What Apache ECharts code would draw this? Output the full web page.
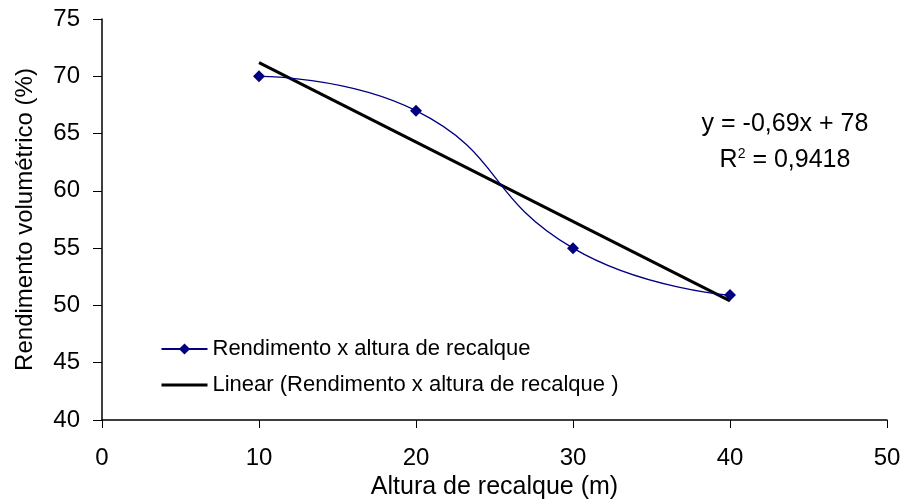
<!DOCTYPE html>
<html>
<head>
<meta charset="utf-8">
<script src="https://cdn.jsdelivr.net/npm/echarts@6/dist/echarts.min.js"></script>
<style>
  html, body { margin: 0; padding: 0; background: #fff; }
  #chart { width: 904px; height: 500px; }
</style>
</head>
<body>
<div id="chart"></div>
<script>
// data
const alturas = [10, 20, 30, 40];
const rendimento = [70, 67, 55, 50.9];
// trend line endpoints (y = -0,69x + 78)
const trendX = [10, 40];
const trendY = [71.2, 50.4];
const xTicks = [0, 10, 20, 30, 40, 50];
const yTicks = [40, 45, 50, 55, 60, 65, 70, 75];

const font = '"Liberation Sans", Arial, sans-serif';
const chart = echarts.init(document.getElementById('chart'));

chart.setOption({
  animation: false,
  grid: { left: 102, top: 19, right: 17, bottom: 80, outerBoundsMode: 'none' },
  legend: {
    orient: 'vertical',
    left: 155,
    top: 333,
    itemGap: 14,
    itemWidth: 46,
    itemHeight: 14,
    textStyle: { fontFamily: font, fontSize: 22, color: '#000' },
    data: [
      { name: 'Rendimento x altura de recalque' },
      {
        name: 'Linear (Rendimento x altura de recalque )',
        itemStyle: { opacity: 0 },
        lineStyle: { width: 3, color: '#000' }
      }
    ]
  },
  xAxis: {
    type: 'value',
    min: xTicks[0], max: xTicks[xTicks.length - 1], interval: 10,
    name: 'Altura de recalque (m)',
    nameLocation: 'middle',
    nameGap: 54,
    nameTextStyle: { fontFamily: font, fontSize: 25, color: '#000' },
    axisLine: { lineStyle: { color: '#000', width: 1.5 } },
    axisTick: { inside: false, length: 8, lineStyle: { color: '#000' } },
    axisLabel: { fontFamily: font, fontSize: 24, color: '#000', margin: 26 },
    splitLine: { show: false }
  },
  yAxis: {
    type: 'value',
    min: yTicks[0], max: yTicks[yTicks.length - 1], interval: 5,
    name: 'Rendimento volumétrico (%)',
    nameLocation: 'middle',
    nameGap: 65,
    nameTextStyle: { fontFamily: font, fontSize: 24, color: '#000' },
    axisLine: { show: true, lineStyle: { color: '#000', width: 1.5 } },
    axisTick: { show: true, inside: false, length: 9, lineStyle: { color: '#000' } },
    axisLabel: { fontFamily: font, fontSize: 24, color: '#000', margin: 22 },
    splitLine: { show: false }
  },
  series: [
    {
      name: 'Rendimento x altura de recalque',
      type: 'line',
      smooth: 0.5,
      data: alturas.map((x, i) => [x, rendimento[i]]),
      symbol: 'diamond',
      symbolSize: 12,
      itemStyle: { color: '#000080' },
      lineStyle: { color: '#000080', width: 1.3 },
      z: 3
    },
    {
      name: 'Linear (Rendimento x altura de recalque )',
      type: 'line',
      data: trendX.map((x, i) => [x, trendY[i]]),
      symbol: 'none',
      itemStyle: { color: '#000' },
      lineStyle: { color: '#000', width: 3 },
      z: 2
    }
  ],
  graphic: [
    {
      type: 'text',
      x: 785, y: 124,
      style: {
        text: 'y = -0,69x + 78',
        align: 'center',
        verticalAlign: 'middle',
        font: '25px "Liberation Sans", Arial, sans-serif',
        fill: '#000'
      }
    },
    {
      type: 'text',
      x: 785, y: 160,
      style: {
        text: '{b|R}{s|2}{b| = 0,9418}',
        align: 'center',
        verticalAlign: 'middle',
        rich: {
          b: { fontFamily: font, fontSize: 25, color: '#000', verticalAlign: 'bottom' },
          s: { fontFamily: font, fontSize: 14, color: '#000', verticalAlign: 'top', padding: [0, 0, 10, 0] }
        }
      }
    }
  ]
});
</script>
</body>
</html>
